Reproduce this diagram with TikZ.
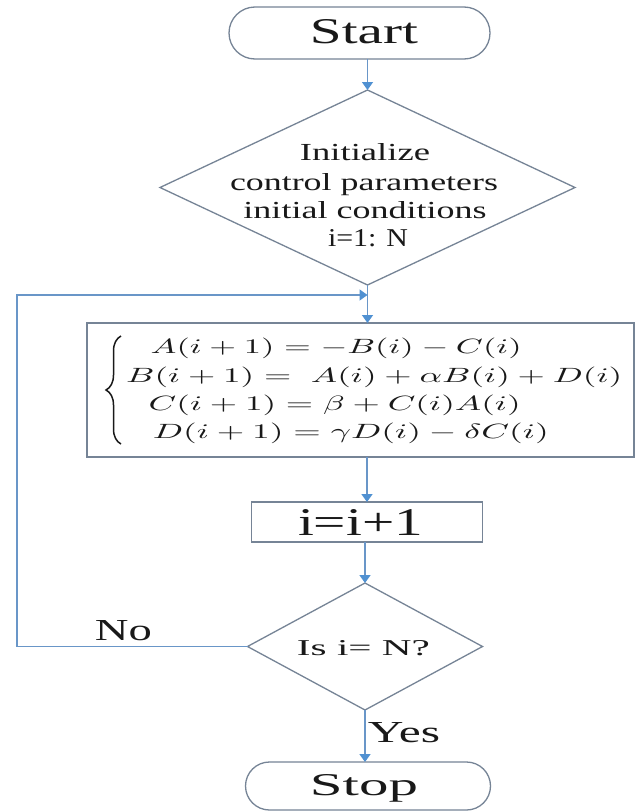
\documentclass[tikz,border=0pt]{standalone}
\usepackage{fontspec}
\setmainfont{Liberation Serif}
\usepackage{graphicx}
\usetikzlibrary{shapes.geometric,shapes.misc,arrows.meta,decorations.pathreplacing}
\definecolor{shapeline}{RGB}{118,132,150}
\definecolor{connline}{RGB}{105,150,200}
\definecolor{conn}{RGB}{80,145,210}
\definecolor{txt}{RGB}{25,25,25}
\newcommand\fitt[3]{\resizebox{#1pt}{#2pt}{#3}}
\begin{document}
\begin{tikzpicture}[x=1pt,y=-1pt,
  shp/.style={draw=shapeline, line width=1.3pt, fill=white, inner sep=0pt, outer sep=0pt},
  lbl/.style={anchor=base, inner sep=0pt, text=txt},
  arr/.style={draw=connline, line width=1.4pt, -{Triangle[width=11pt,length=8pt,color=conn]}}]
\useasboundingbox (0,0) rectangle (635,811);
\fill[white] (0,0) rectangle (635,811);

% shapes
\node[shp, rounded rectangle, minimum width=261pt, minimum height=52pt] (start) at (359.5,33) {};
\node[lbl] (starttxt) at (364,43) {\fitt{108}{24}{Start}};

\node[shp, diamond, minimum width=415pt, minimum height=195pt] (d1) at (367.5,187.5) {};
\node[lbl] (i1) at (365,160) {\fitt{130}{17}{Initialize}};
\node[lbl] (i2) at (364,190) {\fitt{268}{17}{control parameters}};
\node[lbl] (i3) at (365,218) {\fitt{243}{17}{initial conditions}};
\node[lbl] (i4) at (368,246) {\fitt{80}{17}{i=1: N}};

\node[shp, rectangle, minimum width=547pt, minimum height=134pt] (eqbox) at (360.5,390) {};
\draw[txt, line width=1.5pt, decorate, decoration={brace, amplitude=15pt, aspect=0.5}] (121,444) -- (121,336);
\node[lbl, anchor=base west] (e1) at (150.5,353) {\fitt{371}{15.5}{$A(i+1) = -B(i) - C(i)$}};
\node[lbl, anchor=base west] (e2) at (126,382) {\fitt{496}{15.5}{$B(i+1) = \;A(i) + \alpha B(i) + D(i)$}};
\node[lbl, anchor=base west] (e3) at (148.5,410) {\fitt{372}{15.5}{$C(i+1) = \beta + C(i)A(i)$}};
\node[lbl, anchor=base west] (e4) at (152.6,438) {\fitt{396}{15.5}{$D(i+1) = \gamma D(i) - \delta C(i)$}};

\node[shp, rectangle, minimum width=231pt, minimum height=40pt] (inc) at (367,522) {};
\node[lbl] (inctxt) at (360.5,535) {\fitt{125}{26}{i=i+1}};

\node[shp, diamond, minimum width=235pt, minimum height=127pt] (d2) at (365,646.5) {};
\node[lbl] (d2txt) at (363.5,655) {\fitt{133}{15}{Is i= N?}};

\node[shp, rounded rectangle, minimum width=245pt, minimum height=48pt] (stop) at (368,786) {};
\node[lbl] (stoptxt) at (364,795) {\fitt{108}{21}{Stop}};

\node[lbl] (no) at (123.5,640) {\fitt{57}{20}{No}};
\node[lbl] (yes) at (404,742) {\fitt{72}{20}{Yes}};

% connectors
\coordinate (fbl) at (17,647);
\coordinate (fbt) at (17,295);
\draw[arr] (start.south -| d1.north) -- (d1.north);
\draw[arr] (d1.south) -- (d1.south |- eqbox.north);
\draw[arr] (d2.west) -- (d2.west -| fbl) -- (fbt) -- (d1.south |- fbt);
\draw[arr] (eqbox.south -| inc.north) -- (inc.north);
\draw[arr] (inc.south -| d2.north) -- (d2.north);
\draw[arr] (d2.south) -- (d2.south |- stop.north);
\end{tikzpicture}
\end{document}
